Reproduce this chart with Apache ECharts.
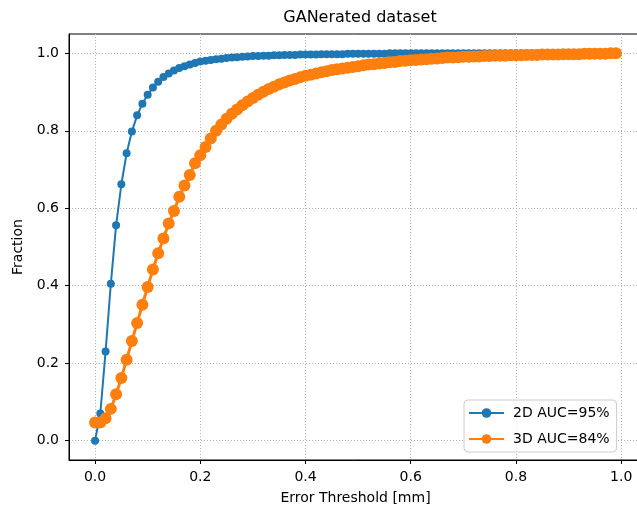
<!DOCTYPE html>
<html>
<head>
<meta charset="utf-8">
<script src="https://cdn.jsdelivr.net/npm/echarts@6/dist/echarts.min.js"></script>
<style>
  html, body { margin: 0; padding: 0; background: #fff; }
  #chart { width: 637px; height: 512px; }
</style>
</head>
<body>
<div id="chart"></div>
<script>
// error thresholds [mm]
const thresholds = [
  0.00, 0.01, 0.02, 0.03, 0.04, 0.05, 0.06, 0.07, 0.08, 0.09,
  0.10, 0.11, 0.12, 0.13, 0.14, 0.15, 0.16, 0.17, 0.18, 0.19,
  0.20, 0.21, 0.22, 0.23, 0.24, 0.25, 0.26, 0.27, 0.28, 0.29,
  0.30, 0.31, 0.32, 0.33, 0.34, 0.35, 0.36, 0.37, 0.38, 0.39,
  0.40, 0.41, 0.42, 0.43, 0.44, 0.45, 0.46, 0.47, 0.48, 0.49,
  0.50, 0.51, 0.52, 0.53, 0.54, 0.55, 0.56, 0.57, 0.58, 0.59,
  0.60, 0.61, 0.62, 0.63, 0.64, 0.65, 0.66, 0.67, 0.68, 0.69,
  0.70, 0.71, 0.72, 0.73, 0.74, 0.75, 0.76, 0.77, 0.78, 0.79,
  0.80, 0.81, 0.82, 0.83, 0.84, 0.85, 0.86, 0.87, 0.88, 0.89,
  0.90, 0.91, 0.92, 0.93, 0.94, 0.95, 0.96, 0.97, 0.98, 0.99
];

const frac2d = [
  0.000, 0.070, 0.230, 0.405, 0.556, 0.662, 0.742, 0.798, 0.840, 0.870,
  0.893, 0.912, 0.927, 0.939, 0.948, 0.956, 0.962, 0.967, 0.971, 0.975,
  0.979, 0.981, 0.983, 0.985, 0.986, 0.988, 0.989, 0.990, 0.991, 0.992,
  0.993, 0.993, 0.994, 0.994, 0.995, 0.995, 0.996, 0.996, 0.996, 0.997,
  0.997, 0.997, 0.997, 0.998, 0.998, 0.998, 0.998, 0.998, 0.999, 0.999,
  0.999, 0.999, 0.999, 0.999, 0.999, 0.999, 1.000, 1.000, 1.000, 1.000,
  1.000, 1.000, 1.000, 1.000, 1.000, 1.000, 1.000, 1.000, 1.000, 1.000,
  1.000, 1.000, 1.000, 1.000, 1.000, 1.000, 1.000, 1.000, 1.000, 1.000,
  1.000, 1.000, 1.000, 1.000, 1.000, 1.000, 1.000, 1.000, 1.000, 1.000,
  1.000, 1.000, 1.000, 1.000, 1.000, 1.000, 1.000, 1.000, 1.000, 1.000
];

const frac3d = [
  0.047, 0.047, 0.058, 0.082, 0.120, 0.162, 0.209, 0.257, 0.304, 0.351,
  0.397, 0.442, 0.484, 0.522, 0.561, 0.593, 0.630, 0.659, 0.686, 0.716,
  0.737, 0.758, 0.780, 0.800, 0.816, 0.831, 0.844, 0.855, 0.866, 0.876,
  0.885, 0.893, 0.901, 0.908, 0.914, 0.920, 0.925, 0.930, 0.934, 0.938,
  0.942, 0.945, 0.948, 0.951, 0.954, 0.957, 0.959, 0.961, 0.963, 0.965,
  0.967, 0.969, 0.971, 0.972, 0.974, 0.975, 0.977, 0.978, 0.980, 0.981,
  0.982, 0.983, 0.984, 0.985, 0.986, 0.987, 0.988, 0.989, 0.989, 0.990,
  0.991, 0.991, 0.992, 0.992, 0.993, 0.993, 0.994, 0.994, 0.994, 0.995,
  0.995, 0.995, 0.996, 0.996, 0.996, 0.997, 0.997, 0.997, 0.997, 0.998,
  0.998, 0.998, 0.998, 0.999, 0.999, 0.999, 0.999, 0.999, 1.000, 1.000
];

const xTicks = [0, 0.2, 0.4, 0.6, 0.8, 1.0];
const yTicks = [0, 0.2, 0.4, 0.6, 0.8, 1.0];
const seriesNames = ['2D AUC=95%', '3D AUC=84%'];

const FONT = 'DejaVu Sans';

const chart = echarts.init(document.getElementById('chart'), null, { renderer: 'canvas' });

const pairs = (ys) => thresholds.map((x, i) => [x, ys[i]]);

const axisCommon = {
  type: 'value',
  axisLine: { show: true, onZero: false, lineStyle: { color: '#000', width: 1 } },
  axisTick: { show: true, length: 4, lineStyle: { color: '#000' } },
  splitLine: { show: true, lineStyle: { color: '#b0b0b0', type: [1, 2], width: 1 } },
  nameTextStyle: { fontFamily: FONT, fontSize: 14, color: '#000' }
};

chart.setOption({
  animation: false,
  backgroundColor: '#fff',
  title: {
    text: 'GANerated dataset',
    left: 355,
    textAlign: 'center',
    top: 5,
    textStyle: { fontFamily: FONT, fontSize: 16, fontWeight: 'normal', color: '#000' }
  },
  grid: {
    left: 69, top: 34, right: -5, bottom: 52,
    outerBoundsMode: 'none',
    containLabel: false,
    show: true, borderColor: '#000', borderWidth: 1, backgroundColor: 'transparent'
  },
  legend: {
    orient: 'vertical',
    left: 464, top: 400,
    padding: [6, 7, 6, 4],
    itemGap: 12,
    itemWidth: 35,
    itemHeight: 12,
    backgroundColor: 'rgba(255,255,255,0.8)',
    borderColor: '#cccccc',
    borderWidth: 1,
    borderRadius: 4,
    textStyle: { fontFamily: FONT, fontSize: 14, color: '#000', padding: [0, 0, 0, 4] },
    data: seriesNames
  },
  xAxis: Object.assign({}, axisCommon, {
    min: -0.0495, max: 1.0395,
    name: 'Error Threshold [mm]',
    nameLocation: 'middle',
    nameGap: 31,
    axisTick: Object.assign({}, axisCommon.axisTick, { customValues: xTicks }),
    axisLabel: {
      customValues: xTicks, margin: 10,
      fontFamily: FONT, fontSize: 14, color: '#000',
      formatter: (v) => v.toFixed(1)
    }
  }),
  yAxis: Object.assign({}, axisCommon, {
    min: -0.05, max: 1.05,
    name: 'Fraction',
    nameLocation: 'middle',
    nameGap: 44,
    axisTick: Object.assign({}, axisCommon.axisTick, { customValues: yTicks }),
    axisLabel: {
      customValues: yTicks, margin: 10,
      fontFamily: FONT, fontSize: 14, color: '#000',
      formatter: (v) => v.toFixed(1)
    }
  }),
  series: [
    {
      name: seriesNames[0],
      type: 'line',
      data: pairs(frac2d),
      symbol: 'circle',
      symbolSize: 8,
      showSymbol: true,
      itemStyle: { color: '#1f77b4' },
      lineStyle: { color: '#1f77b4', width: 2 }
    },
    {
      name: seriesNames[1],
      type: 'line',
      data: pairs(frac3d),
      symbol: 'circle',
      symbolSize: 12,
      showSymbol: true,
      itemStyle: { color: '#ff7f0e' },
      lineStyle: { color: '#ff7f0e', width: 3 }
    }
  ]
});
</script>
</body>
</html>
